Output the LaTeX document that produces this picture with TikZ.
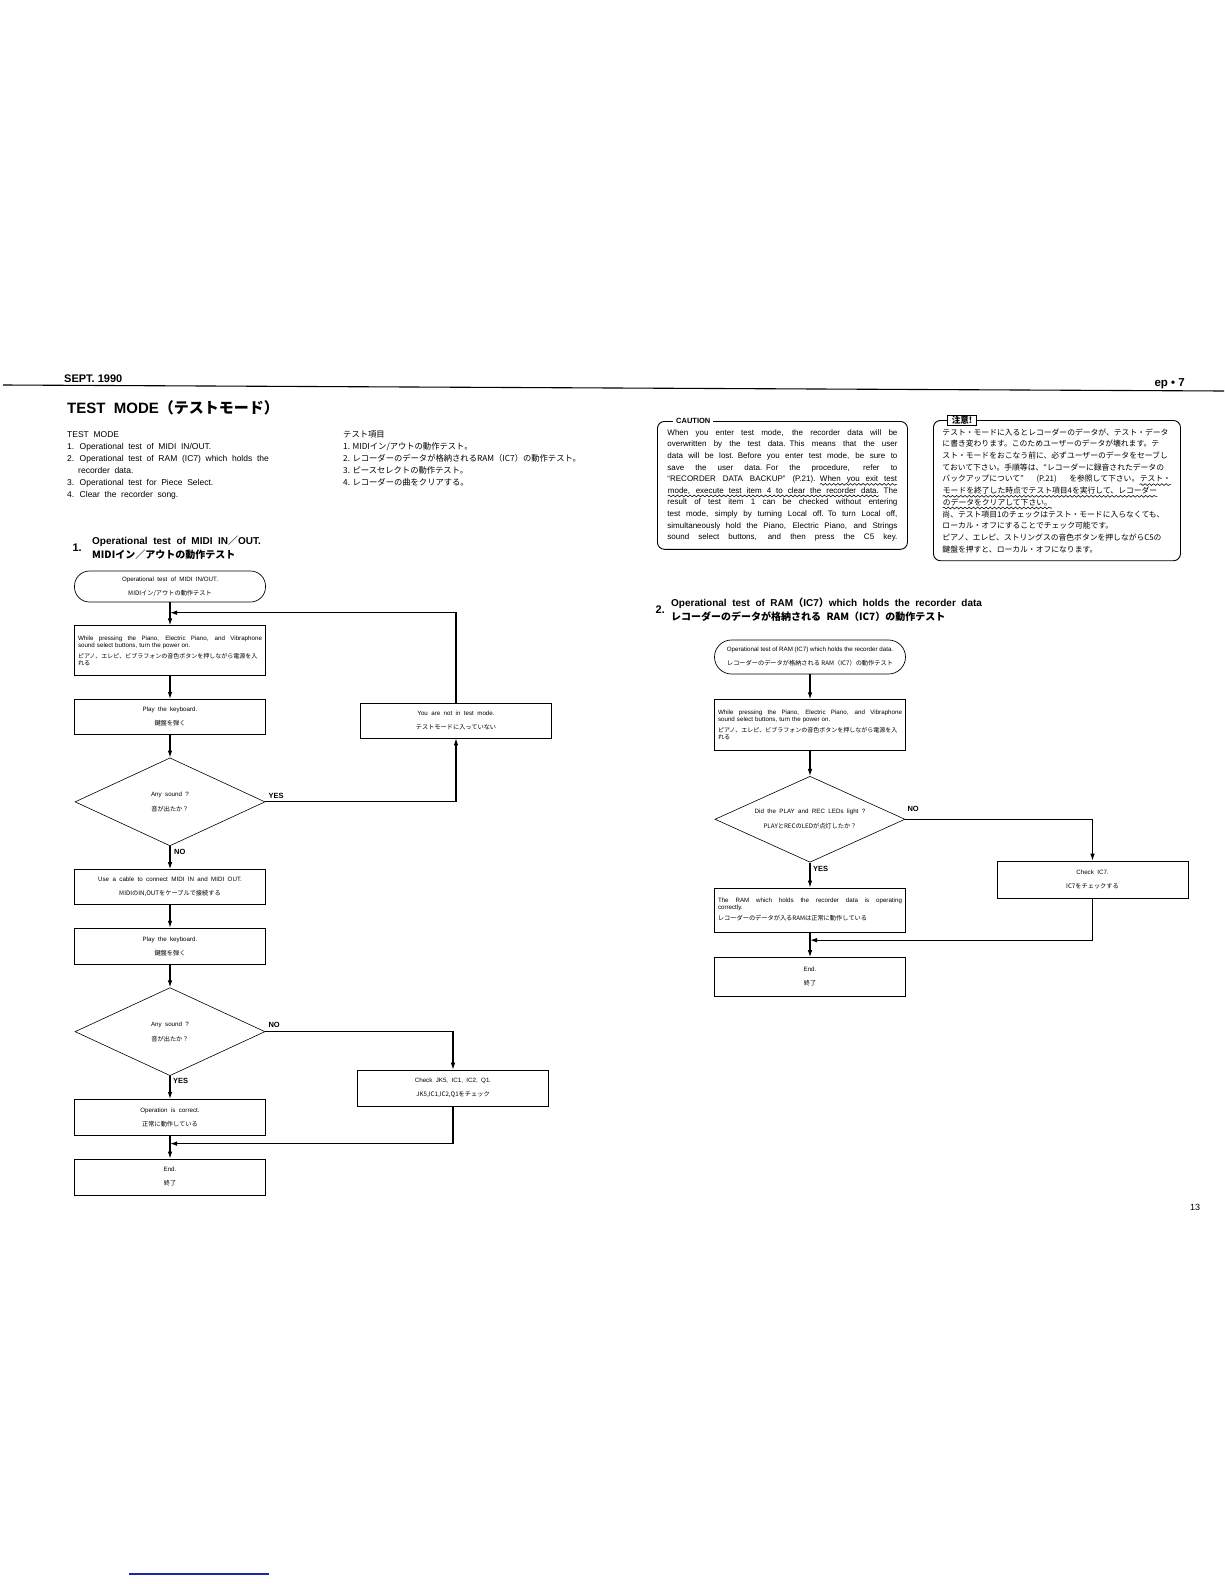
\documentclass[tikz,border=0pt]{standalone}
\usepackage{fontspec}
\usepackage{tikz}
\usetikzlibrary{arrows.meta,calc,positioning,shapes.geometric,decorations.pathmorphing}
\setmainfont{Liberation Sans}
\newfontfamily\jp{Noto Sans CJK JP}
\XeTeXlinebreaklocale "ja"
\XeTeXlinebreakskip=0pt plus 1.5pt
\definecolor{ScanBlue}{RGB}{30,40,160}
\newcommand{\loose}{\spaceskip=0.55em plus 0.3em\relax}
\newcommand{\fillto}[2]{\leavevmode\hbox to #1{\spaceskip=0.3em plus 0.5em\relax #2}}
\newcommand{\wavy}[2][0pt]{\tikz[baseline=(w.base),sharp corners]{\node[inner sep=0pt,text width={},align=none,anchor=base] (w)
    {\ifdim#1=0pt #2\else\hbox to #1{\spaceskip=0.3em plus 1em\relax #2}\fi};
  \draw[sharp corners,decorate,decoration={snake,amplitude=0.9pt,segment length=4.2pt},line width=0.55pt] ([yshift=-2.7pt]w.base west) -- ([yshift=-2.7pt]w.base east);}}
\tikzset{
  >={Latex[length=7pt,width=4.6pt]},
  flow/.style={->,line width=1.1pt},
  rule/.style={line width=1.1pt},
  boxfont/.style={font={\fontsize{6.2}{7}\selectfont\loose}},
  termbox/.style={draw,line width=0.7pt,rounded corners=15pt,minimum width=191pt,
    minimum height=31pt,inner sep=2pt,align=center,boxfont},
  procbox/.style={draw,line width=0.6pt,minimum width=191pt,minimum height=35pt,
    inner sep=3pt,align=center,boxfont},
  decbox/.style={draw,diamond,aspect=2.2,line width=0.6pt,minimum width=190pt,
    minimum height=88pt,inner sep=0pt,align=center,boxfont},
  yesno/.style={inner sep=1pt,font=\bfseries\fontsize{7.5}{8}\selectfont},
  notebox/.style={draw,line width=0.9pt,rounded corners=7pt,align=left},
  notelabel/.style={fill=white,inner xsep=3pt,inner ysep=1pt,
    font=\bfseries\fontsize{7.5}{8}\selectfont},
  heading/.style={inner sep=0pt,align=left,font={\bfseries\fontsize{10}{14}\selectfont\loose}}
}
\begin{document}
\begin{tikzpicture}[x=1pt,y=-1pt]
        \fill[white] (0,0) rectangle (1224,1584);
        \useasboundingbox (0,0) rectangle (1224,1584);
        \node[anchor=base west,inner sep=0pt,font=\bfseries\fontsize{11}{11}\selectfont] (date) at (64,382) {SEPT. 1990};
        \node[anchor=base east,inner sep=0pt,font=\bfseries\fontsize{11.5}{11.5}\selectfont] (model) at (1185,386) {ep • 7};
        \draw[rule] (3,385) -- (1224,391);
        \node[anchor=base west,inner sep=0pt,font=\bfseries\fontsize{15}{15}\selectfont] (title) at (67,413.5) {TEST\ \ MODE{\jp （テストモード）}};
        \node[anchor=base west,inner sep=0pt,align=left,font={\fontsize{8.5}{12}\selectfont\loose}] (items) at (67,497) {TEST MODE\\1. Operational test of MIDI IN/OUT.\\2. Operational test of RAM (IC7) which holds the\\\hspace*{11pt}recorder data.\\3. Operational test for Piece Select.\\4. Clear the recorder song.};
        \node[anchor=base west,inner sep=0pt,align=left,font={\jp\fontsize{8.3}{12}\selectfont}] (jitems) at (343,485) {テスト項目\\1. MIDIイン/アウトの動作テスト。\\2. レコーダーのデータが格納されるRAM（IC7）の動作テスト。\\3. ピースセレクトの動作テスト。\\4. レコーダーの曲をクリアする。};
        \node[notebox,text width=230pt,inner xsep=10pt,inner ysep=8pt,anchor=north west,font={\fontsize{8}{11.6}\selectfont}] (caution) at (657,421) {%
          \fillto{230pt}{When you enter test mode, the recorder data will be}\\
          \fillto{230pt}{overwritten by the test data. This means that the user}\\
          \fillto{230pt}{data will be lost. Before you enter test mode, be sure to}\\
          \fillto{230pt}{save the user data. For the procedure, refer to}\\
          \fillto{230pt}{``RECORDER DATA BACKUP'' (P.21). \wavy[77pt]{When you exit test}}\\
          \fillto{230pt}{\wavy[211pt]{mode, execute test item 4 to clear the recorder data.} The}\\
          \fillto{230pt}{result of test item 1 can be checked without entering}\\
          \fillto{230pt}{test mode, simply by turning Local off. To turn Local off,}\\
          \fillto{230pt}{simultaneously hold the Piano, Electric Piano, and Strings}\\
          \fillto{230pt}{sound select buttons, and then press the C5 key.}};
        \node[notelabel,anchor=west] (cautionhd) at ([xshift=16pt]caution.north west) {CAUTION};
        \node[notebox,text width=229pt,inner xsep=9pt,inner ysep=8pt,anchor=north west,font={\jp\fontsize{7.8}{11.7}\selectfont}] (chui) at (933,420) {%
          \fillto{229pt}{テスト・モードに入るとレコーダーのデータが、テスト・データ}\\
          \fillto{229pt}{に書き変わります。このためユーザーのデータが壊れます。テ}\\
          \fillto{229pt}{スト・モードをおこなう前に、必ずユーザーのデータをセーブし}\\
          \fillto{229pt}{ておいて下さい。手順等は、“レコーダーに録音されたデータの}\\
          \fillto{229pt}{バックアップについて” (P.21) を参照して下さい。\wavy{テスト・}}\\
          \fillto{229pt}{\wavy{モードを終了した時点でテスト項目4を実行して、レコーダー}}\\
          \wavy{のデータをクリアして下さい。}\\
          \fillto{229pt}{尚、テスト項目1のチェックはテスト・モードに入らなくても、}\\
          ローカル・オフにすることでチェック可能です。\\
          \fillto{229pt}{ピアノ、エレピ、ストリングスの音色ボタンを押しながらC5の}\\
          鍵盤を押すと、ローカル・オフになります。};
        \node[notelabel,draw,line width=1pt,inner xsep=4pt,font={\jp\bfseries\fontsize{8.5}{9}\selectfont}] (chuihd) at ([xshift=29pt]chui.north west) {注意!};
        \node[heading,anchor=base west] (head1) at (92,558) {Operational test of MIDI IN{\jp ／}OUT.\\{\jp MIDIイン／アウトの動作テスト}};
        \node[heading,left=10pt of head1,font=\bfseries\fontsize{11}{11}\selectfont] (num1) {1.};
        \begin{scope}[node distance=23pt]
          \node[termbox] (start1) at (170,586.5) {Operational test of MIDI IN/OUT.\\[7pt]{\jp MIDIイン/アウトの動作テスト}};
          \node[procbox,minimum height=50pt,text width=184pt,align=left,below=of start1] (power1) {\fillto{184pt}{While pressing the Piano, Electric Piano, and Vibraphone}\\sound select buttons, turn the power on.\\[4pt]{\jp\fontsize{6}{7}\selectfont\fillto{184pt}{ピアノ、エレピ、ビブラフォンの音色ボタンを押しながら電源を入}}\\{\jp れる}};
          \node[procbox,below=of power1] (play1) {Play the keyboard.\\[7pt]{\jp 鍵盤を弾く}};
          \node[decbox,below=of play1] (sound1) {Any sound ?\\[8pt]{\jp 音が出たか？}};
          \node[procbox,below=of sound1] (cable) {Use a cable to connect MIDI IN and MIDI OUT.\\[7pt]{\jp MIDIのIN,OUTをケーブルで接続する}};
          \node[procbox,minimum height=36pt,below=of cable] (play2) {Play the keyboard.\\[7pt]{\jp 鍵盤を弾く}};
          \node[decbox,below=of play2] (sound2) {Any sound ?\\[8pt]{\jp 音が出たか？}};
          \node[procbox,minimum height=36pt,below=of sound2] (ok1) {Operation is correct.\\[7pt]{\jp 正常に動作している}};
          \node[procbox,minimum height=36pt,below=of ok1] (end1) {End.\\[7pt]{\jp 終了}};
        \end{scope}
        \node[procbox] (notest) at (456,720.5) {You are not in test mode.\\[7pt]{\jp テストモードに入っていない}};
        \node[procbox,minimum height=36pt] (check1) at (453,1088) {Check JK5, IC1, IC2, Q1.\\[7pt]{\jp JK5,IC1,IC2,Q1をチェック}};
        \coordinate (back1) at ($(start1.south)!0.45!(power1.north)$);
        \coordinate (join1) at ($(ok1.south)!0.35!(end1.north)$);
        \draw[flow] (start1) -- (power1);
        \draw[flow] (notest.north) |- (back1);
        \draw[flow] (power1) -- (play1);
        \draw[flow] (play1) -- (sound1);
        \draw[flow] (sound1.east) -| (notest.south);
        \node[yesno,anchor=south west] (yes1) at ([xshift=2pt,yshift=2pt]sound1.east) {YES};
        \draw[flow] (sound1) -- (cable);
        \node[yesno,anchor=north west] (no1) at ([xshift=3pt,yshift=-2pt]sound1.south) {NO};
        \draw[flow] (cable) -- (play2);
        \draw[flow] (play2) -- (sound2);
        \draw[flow] (sound2.east) -| (check1.north);
        \node[yesno,anchor=south west] (no2) at ([xshift=2pt,yshift=3pt]sound2.east) {NO};
        \draw[flow] (sound2) -- (ok1);
        \node[yesno,anchor=north west] (yes2) at ([xshift=2pt,yshift=-1pt]sound2.south) {YES};
        \draw[flow] (ok1) -- (end1);
        \draw[flow] (check1.south) |- (join1);
        \node[heading,anchor=base west] (head2) at (671,620.5) {Operational test of RAM{\jp （}IC7{\jp ）}which holds the recorder data\\{\jp レコーダーのデータが格納される RAM（IC7）の動作テスト}};
        \node[heading,left=6pt of head2,font=\bfseries\fontsize{11}{11}\selectfont] (num2) {2.};
        \begin{scope}[node distance=25pt]
          \node[termbox,minimum height=34pt,rounded corners=17pt,font={\fontsize{6.2}{7}\selectfont}] (start2) at (810,657) {Operational test of RAM (IC7) which holds the recorder data.\\[7pt]{\jp レコーダーのデータが格納される RAM（IC7）の動作テスト}};
          \node[procbox,minimum height=51pt,text width=184pt,align=left,below=of start2] (power2) {\fillto{184pt}{While pressing the Piano, Electric Piano, and Vibraphone}\\sound select buttons, turn the power on.\\[4pt]{\jp\fontsize{6}{7}\selectfont\fillto{184pt}{ピアノ、エレピ、ビブラフォンの音色ボタンを押しながら電源を入}}\\{\jp れる}};
          \node[decbox,minimum height=86pt,below=of power2] (leds) {Did the PLAY and REC LEDs light ?\\[8pt]{\jp PLAYとRECのLEDが点灯したか？}};
          \node[procbox,minimum height=44pt,text width=184pt,align=left,below=of leds] (ramok) {\fillto{184pt}{The RAM which holds the recorder data is operating}\\correctly.\\[4pt]{\jp レコーダーのデータが入るRAMは正常に動作している}};
          \node[procbox,minimum height=39pt,below=of ramok] (end2) {End.\\[7pt]{\jp 終了}};
        \end{scope}
        \node[procbox,minimum height=37pt] (check2) at (1092.5,879.5) {Check IC7.\\[7pt]{\jp IC7をチェックする}};
        \coordinate (join2) at ($(ramok.south)!0.32!(end2.north)$);
        \draw[flow] (start2) -- (power2);
        \draw[flow] (power2) -- (leds);
        \draw[flow] (leds.east) -| (check2.north);
        \node[yesno,anchor=south west] (no3) at ([xshift=1pt,yshift=6pt]leds.east) {NO};
        \draw[flow] (leds) -- (ramok);
        \node[yesno,anchor=north west] (yes3) at ([xshift=2pt,yshift=-3pt]leds.south) {YES};
        \draw[flow] (ramok) -- (end2);
        \draw[flow] (check2.south) |- (join2);
        \node[anchor=base,inner sep=0pt,font=\fontsize{9}{9}\selectfont] (page) at (1195,1210) {13};
        \draw[draw=ScanBlue,line width=1.4pt] (129,1574) -- (269,1574);
      \end{tikzpicture}
\end{document}
